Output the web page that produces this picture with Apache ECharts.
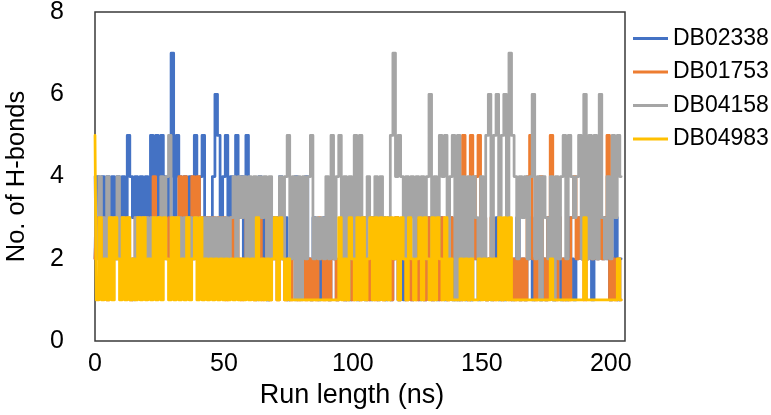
<!DOCTYPE html>
<html>
<head>
<meta charset="utf-8">
<script src="https://cdn.jsdelivr.net/npm/echarts@6/dist/echarts.min.js"></script>
<style>
html,body{margin:0;padding:0;background:#fff;}
#chart{width:771px;height:415px;}
</style>
</head>
<body>
<div id="chart"></div>
<script>
// Run length sampled every 1 ns (index = ns)
const seriesNames = ['DB02338', 'DB01753', 'DB04158', 'DB04983'];
const seriesColors = ['#4472C4', '#ED7D31', '#A5A5A5', '#FFC000'];
const xTickLabels = [0, 50, 100, 150, 200];
const yTickLabels = [0, 2, 4, 6, 8];

const hbDB02338 = [
  2,4,3,4,2,4,3,4,2,4, 3,4,2,5,4,3,4,2,4,3, 4,2,5,3,5,2,5,4,3,4,
  7,3,5,4,2,4,3,4,2,5, 3,4,5,3,2,3,4,6,5,2, 4,5,2,4,3,5,3,4,2,5,
  3,2,3,2,4,2,3,1,2,3, 2,3,4,2,3,1,2,3,4,3, 2,3,4,2,1,3,2,1,2,3,
  2,1,3,2,1,2,3,1,2,1, 3,2,1,2,3,1,2,1,3,2, 1,2,3,1,2,1,2,3,1,2,
  1,3,2,1,2,3,1,2,1,2, 3,1,2,1,3,2,1,2,3,1, 2,1,3,2,1,2,1,3,2,1,
  2,3,1,2,1,2,3,1,2,1, 3,2,1,2,3,1,2,1,2,3, 1,2,3,1,2,1,3,2,1,2,
  3,1,2,1,3,2,1,2,3,2, 3,2,3,1,3,2,3,2,3,2, 1,2,3,1,2
];
const hbDB01753 = [
  2,3,2,3,2,1,3,2,3,2, 3,2,3,2,1,2,3,2,3,2, 3,2,3,4,2,3,2,3,2,3,
  2,3,2,4,2,4,3,2,4,2, 4,2,3,2,3,2,3,2,3,2, 3,1,2,3,2,3,2,1,2,3,
  2,3,1,2,3,1,2,3,1,2, 3,1,2,3,1,2,1,2,3,1, 2,3,1,2,1,2,1,3,2,1,
  2,1,3,2,1,2,3,1,2,3, 1,2,3,1,2,3,1,2,3,1, 2,3,1,2,3,1,2,3,1,2,
  3,1,2,1,2,1,3,2,1,3, 2,1,3,2,1,3,2,1,3,2, 3,2,1,5,2,1,5,2,4,5,
  2,3,1,2,3,1,2,3,1,2, 3,1,2,1,2,1,2,1,4,5, 2,1,3,4,2,1,3,5,2,1,
  3,2,1,2,1,3,4,2,3,2, 1,2,3,2,3,2,3,2,3,5, 1,2,1,2,1
];
const hbDB04158 = [
  4,2,4,3,2,4,2,3,2,4, 2,3,2,3,2,1,3,2,3,2, 3,2,3,2,3,2,4,2,4,5,
  2,3,2,3,2,3,2,3,2,3, 2,3,2,3,2,3,2,3,2,3, 2,3,2,3,4,2,4,3,4,2,
  4,2,4,1,4,3,4,1,4,2, 3,2,4,2,4,5,2,4,1,4, 1,4,2,4,5,2,3,2,3,2,
  4,2,5,2,4,5,2,4,1,4, 2,5,2,5,3,2,4,3,2,4, 2,4,3,2,3,5,7,4,5,4,
  2,4,3,4,2,4,3,4,2,4, 6,2,4,3,5,4,5,2,4,5, 1,5,1,4,2,4,1,4,3,2,
  4,2,5,6,2,5,6,3,5,6, 3,7,5,4,2,4,3,4,2,4, 6,2,4,1,4,3,2,4,1,4,
  2,4,5,2,5,4,3,4,5,2, 6,2,5,2,5,2,6,3,2,4, 2,5,3,5,4
];
const hbDB04983 = [
  5,1,3,1,2,1,3,1,3,2, 1,3,1,3,1,2,1,3,1,3, 1,2,1,3,1,3,1,3,2,1,
  3,1,3,1,2,1,3,1,2,3, 1,3,1,2,1,2,1,2,1,2, 1,2,1,2,1,2,1,2,1,2,
  1,2,1,3,1,2,1,2,1,2, 3,1,3,2,1,2,1,1,1,1, 1,1,1,1,1,1,1,1,1,1,
  1,1,1,1,1,3,1,2,1,3, 2,1,3,1,3,1,2,3,1,3, 1,3,1,3,1,3,2,3,1,3,
  2,1,3,2,1,2,3,1,3,2, 1,3,1,3,2,1,3,1,2,1, 1,1,2,1,2,1,2,1,1,2,
  1,2,1,2,1,2,1,3,1,3, 1,3,1,1,1,1,1,1,1,1, 1,1,1,1,1,1,1,2,1,1,
  1,1,1,1,1,1,1,1,1,1, 3,1,1,1,1,1,1,1,1,1, 1,1,1,2,1
];
const allValues = [hbDB02338, hbDB01753, hbDB04158, hbDB04983];

const FONT = 'Liberation Sans';
const chart = echarts.init(document.getElementById('chart'), null, {renderer: 'canvas'});
chart.setOption({
  animation: false,
  backgroundColor: '#ffffff',
  grid: {left: 95, right: 146, top: 12, bottom: 74, show: true, borderColor: '#3a3a3a', borderWidth: 1.5,
         containLabel: false, outerBoundsMode: 'none'},
  legend: {
    orient: 'vertical', left: 628, top: 22, itemWidth: 35, itemHeight: 3, itemGap: 10.5,
    icon: 'rect',
    data: seriesNames,
    textStyle: {fontFamily: FONT, fontSize: 23, color: '#000'}
  },
  xAxis: {
    type: 'value', min: 0, max: 205.5, interval: 50,
    name: 'Run length (ns)', nameLocation: 'middle', nameGap: 41,
    nameTextStyle: {fontFamily: FONT, fontSize: 27, color: '#000', padding: [0, 16, 0, 0]},
    axisLine: {show: false}, axisTick: {show: false}, splitLine: {show: false},
    axisLabel: {fontFamily: FONT, fontSize: 25, color: '#000', margin: 11, showMaxLabel: false,
      formatter: v => (xTickLabels.indexOf(v) >= 0 ? String(v) : '')}
  },
  yAxis: {
    type: 'value', min: 0, max: 8, interval: 2,
    name: 'No. of H-bonds', nameLocation: 'middle', nameGap: 65, nameRotate: 90,
    nameTextStyle: {fontFamily: FONT, fontSize: 25.5, color: '#000'},
    axisLine: {show: false}, axisTick: {show: false}, splitLine: {show: false},
    axisLabel: {fontFamily: FONT, fontSize: 25, color: '#000', margin: 31,
      formatter: v => (yTickLabels.indexOf(v) >= 0 ? String(v) : '')}
  },
  series: seriesNames.map((name, k) => ({
    name: name,
    type: 'line',
    step: 'middle',
    data: allValues[k].map((v, i) => [i, v]),
    showSymbol: false,
    symbol: 'none',
    sampling: null,
    color: seriesColors[k],
    lineStyle: {width: 2.75, color: seriesColors[k], cap: 'round', join: 'round'},
    clip: true
  }))
});
</script>
</body>
</html>
